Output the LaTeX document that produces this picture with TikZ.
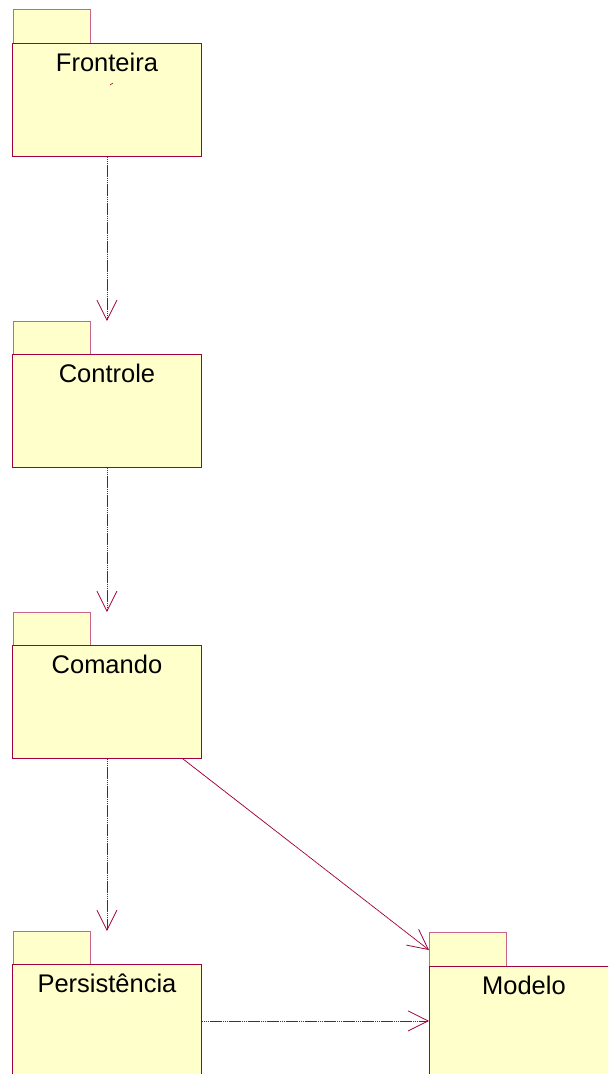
\documentclass[tikz,border=0pt]{standalone}
\usepackage{fontspec}
\setmainfont{Liberation Sans}
\usetikzlibrary{arrows.meta}

\definecolor{pkgline}{RGB}{160,0,60}
\definecolor{pkgfill}{RGB}{255,255,204}

\tikzset{
  pkgbody/.style={draw=pkgline, fill=pkgfill, line width=0.9pt, inner sep=0pt,
    minimum width=189pt, minimum height=113pt, anchor=north west},
  pkgtab/.style={draw=pkgline!60, fill=pkgfill, line width=0.9pt, inner sep=0pt,
    minimum width=77pt, minimum height=34pt, anchor=north west},
  pkgname/.style={anchor=base, inner sep=0pt, font=\fontsize{25.5}{30}\selectfont},
  dep/.style={draw=pkgline, line width=0.8pt, dash pattern=on 1.5pt off 0.4pt,
    -{Straight Barb[length=20pt,width=20pt]}}
}

\begin{document}
\begin{tikzpicture}[x=1pt,y=-1pt]

    % Frame of the page
    \useasboundingbox (0,0) rectangle (608,1074);
    \clip (0,0) rectangle (608,1074);

    % Package Fronteira
    \node[pkgtab] (frotab) at (13,9) {};
    \node[pkgbody] (fro) at (12,43) {};
    \node[pkgname] (froname) at ([yshift=-28pt]fro.north) {Fronteira};
    % small mark under the name
    \draw[pkgline, line width=0.6pt] (110,85) -- (113,83);

    % Package Controle
    \node[pkgtab] (contab) at (13,321) {};
    \node[pkgbody] (con) at (12,354) {};
    \node[pkgname] (conname) at ([yshift=-28pt]con.north) {Controle};

    % Package Comando
    \node[pkgtab] (comtab) at (13,612) {};
    \node[pkgbody] (com) at (12,645) {};
    \node[pkgname] (comname) at ([yshift=-28pt]com.north) {Comando};

    % Package Persistencia
    \node[pkgtab] (pertab) at (13,931) {};
    \node[pkgbody] (per) at (12,964) {};
    \node[pkgname] (pername) at ([yshift=-28pt]per.north) {Persistência};

    % Package Modelo
    \node[pkgtab] (modtab) at (429,932) {};
    \node[pkgbody] (mod) at (429,966) {};
    \node[pkgname] (modname) at ([yshift=-28pt]mod.north) {Modelo};

    % Dependencies
    \draw[dep] (fro.south) -- (fro.south |- contab.north);
    \draw[dep] (con.south) -- (con.south |- comtab.north);
    \draw[dep] (com.south) -- (com.south |- pertab.north);
    \draw[dep] ([xshift=76pt]com.south) -- ([yshift=16pt]mod.north west);
    \draw[dep] (per.east) -- (per.east -| mod.west);

\end{tikzpicture}
\end{document}
